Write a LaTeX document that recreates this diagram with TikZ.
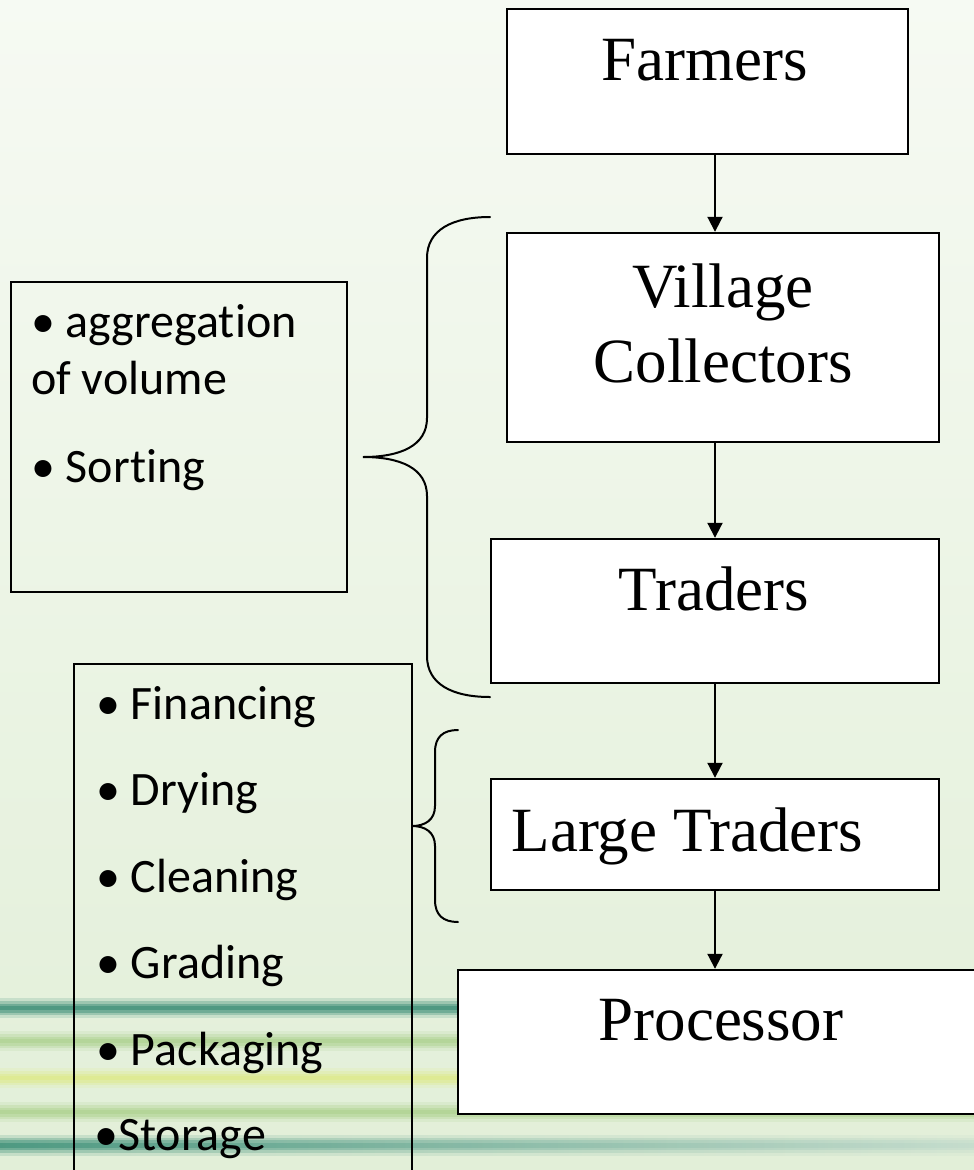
\documentclass[tikz,border=0pt]{standalone}
\usepackage{fontspec}
\setmainfont{Liberation Serif}
\newfontfamily\listfont[Ligatures=NoCommon]{Carlito}
\usetikzlibrary{arrows.meta}

\definecolor{bgtop}{RGB}{246,250,243}
\definecolor{bgbot}{RGB}{226,239,216}
\definecolor{stripeteal}{RGB}{30,126,102}
\definecolor{stripegreen}{RGB}{166,206,132}
\definecolor{stripeyellow}{RGB}{222,234,126}
\definecolor{stripefade}{RGB}{190,216,202}

\tikzset{
  stage/.style={draw=black, fill=white, line width=2.4pt, rectangle, inner sep=0pt},
  notebox/.style={draw=black, line width=2pt, rectangle, inner sep=0pt},
  stagetext/.style={font=\fontsize{63}{75}\selectfont, inner sep=0pt, anchor=base},
  itemtext/.style={font=\listfont\fontsize{48}{57}\selectfont, inner sep=0pt, anchor=base west},
  flow/.style={line width=2pt, -{Triangle[length=15pt,width=15pt]}},
  brace/.style={line width=2pt, line cap=round},
}

\begin{document}
\begin{tikzpicture}[x=1pt, y=-1pt]
  \useasboundingbox (0,0) rectangle (974,1170);
  \clip (0,0) rectangle (974,1170);

  % page background
  \shade[top color=bgtop, bottom color=bgbot] (0,0) rectangle (974,1170);

  % soft horizontal stripes along the bottom
  \foreach \yy/\cc in {1008/stripeteal, 1041/stripegreen, 1078/stripeyellow, 1112/stripegreen} {
    \foreach \w/\o in {20/0.15, 14/0.25, 9/0.35, 4/0.4} {
      \draw[\cc, line width=\w pt, opacity=\o] (0,\yy) -- (974,\yy);
    }
  }
  \foreach \w/\o in {20/0.15, 14/0.25, 9/0.35, 4/0.4} {
    \shade[left color=stripeteal, right color=stripefade, opacity=\o]
      (0,{1145-\w/2}) rectangle (974,{1145+\w/2});
  }

  % chain of stages
  \node[stage, minimum width=401pt, minimum height=145pt] (farmers)   at (707.5, 81.5) {};
  \node[stage, minimum width=432pt, minimum height=209pt] (village)   at (723, 337.5) {};
  \node[stage, minimum width=448pt, minimum height=144pt] (traders)   at (715, 611) {};
  \node[stage, minimum width=448pt, minimum height=111pt] (large)     at (715, 834.5) {};
  \node[stage, minimum width=542pt, minimum height=144pt] (processor) at (729, 1042) {};

  \node[stagetext] (farmers-t)    at (705, 80)    {Farmers};
  \node[stagetext] (village-t)    at (723, 307)   {Village};
  \node[stagetext] (collectors-t) at (723, 382)   {Collectors};
  \node[stagetext] (traders-t)    at (714, 610)   {Traders};
  \node[stagetext] (large-t)      at (687.5, 851) {Large Traders};
  \node[stagetext] (processor-t)  at (721, 1040)  {Processor};

  % flow arrows
  \coordinate (axis) at (715,0);
  \draw[flow] (farmers.south -| axis) -- (village.north -| axis);
  \draw[flow] (village.south -| axis) -- (traders.north -| axis);
  \draw[flow] (traders.south -| axis) -- (large.north -| axis);
  \draw[flow] (large.south -| axis)   -- (processor.north -| axis);

  % function boxes
  \node[notebox, minimum width=336pt, minimum height=310pt] (notes1) at (179, 437) {};
  \node[notebox, minimum width=338pt, minimum height=536pt] (notes2) at (243, 932) {};

  \node[itemtext] (n1a) at (31, 337)  {• aggregation};
  \node[itemtext] (n1b) at (31, 394)  {of volume};
  \node[itemtext] (n1c) at (31, 482)  {• Sorting};

  \node[itemtext] (n2a) at (96, 719)  {• Financing};
  \node[itemtext] (n2b) at (96, 805)  {• Drying};
  \node[itemtext] (n2c) at (96, 892)  {• Cleaning};
  \node[itemtext] (n2d) at (96, 978)  {• Grading};
  \node[itemtext] (n2e) at (96, 1065) {• Packaging};
  \node[itemtext] (n2f) at (94, 1150) {•Storage};

  % braces
  \draw[brace] (490,217) .. controls (452,217) and (427,230) .. (427,258)
    -- (427,418) .. controls (427,446) and (400,457) .. (363,457)
    .. controls (400,457) and (427,468) .. (427,496)
    -- (427,656) .. controls (427,684) and (452,697) .. (490,697);
  \draw[brace] (458,730) .. controls (443,730) and (435,737) .. (435,752)
    -- (435,806) .. controls (435,820) and (425,826) .. (412,826)
    .. controls (425,826) and (435,832) .. (435,846)
    -- (435,900) .. controls (435,915) and (443,922) .. (458,922);
\end{tikzpicture}
\end{document}
